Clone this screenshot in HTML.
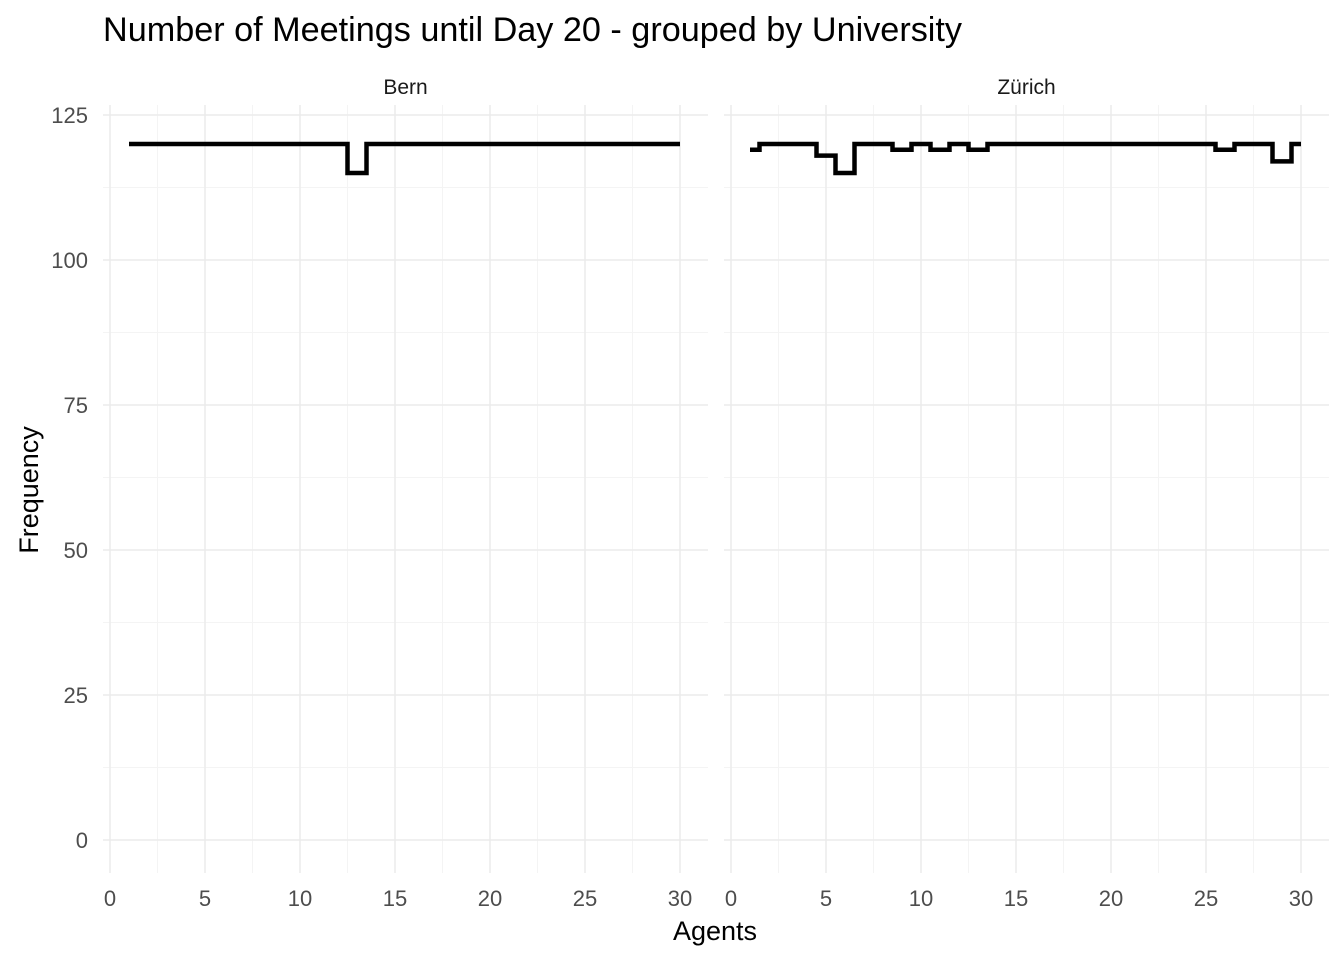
<!DOCTYPE html>
<html><head><meta charset="utf-8"><style>
body{margin:0;background:#fff;font-family:"Liberation Sans",Arial,sans-serif}
</style></head><body>
<svg id="chart" width="1344" height="960" xmlns="http://www.w3.org/2000/svg" font-family="Liberation Sans, Arial, sans-serif">
<text x="103" y="41" font-size="34" textLength="859" lengthAdjust="spacingAndGlyphs" fill="#000">Number of Meetings until Day 20 - grouped by University</text>
<text x="715" y="940" font-size="27" text-anchor="middle">Agents</text>
<text transform="translate(38,490) rotate(-90)" font-size="27" text-anchor="middle">Frequency</text>
<g id="panels"></g>
</svg>
<script>
const panelNames=["Bern","Zürich"];
const agents=[1,2,3,4,5,6,7,8,9,10,11,12,13,14,15,16,17,18,19,20,21,22,23,24,25,26,27,28,29,30];
const bernValues=[120,120,120,120,120,120,120,120,120,120,120,120,115,120,120,120,120,120,120,120,120,120,120,120,120,120,120,120,120,120];
const zurichValues=[119,120,120,120,118,115,120,120,119,120,119,120,119,120,120,120,120,120,120,120,120,120,120,120,120,119,120,120,117,120];
const xTicks=[0,5,10,15,20,25,30];
const yTicks=[0,25,50,75,100,125];
const series=[bernValues,zurichValues];
const NS="http://www.w3.org/2000/svg";
const g=document.getElementById('panels');
const panelX0=[110,731], pxPerX=19;
const yScale=v=>840-v*5.8;
function mk(t,a){const e=document.createElementNS(NS,t);for(const k in a)e.setAttribute(k,a[k]);return e;}
panelNames.forEach((name,p)=>{
  const xs=v=>panelX0[p]+v*pxPerX;
  const left=p?724:103,right=p?1329:708,top=105,bot=873;
  const pg=mk('g',{});
  
  
  g.appendChild(pg);
  for(let i=0;i<xTicks.length-1;i++){const m=(xTicks[i]+xTicks[i+1])/2;
    const l=mk('line',{x1:xs(m),x2:xs(m),y1:top,y2:bot,stroke:'#f4f4f4','stroke-width':1});
    pg.appendChild(l);}
  for(let i=0;i<yTicks.length-1;i++){const m=(yTicks[i]+yTicks[i+1])/2;
    const l=mk('line',{x1:left,x2:right,y1:yScale(m),y2:yScale(m),stroke:'#f4f4f4','stroke-width':1});
    pg.appendChild(l);}
  xTicks.forEach(t=>{
    const l=mk('line',{x1:xs(t),x2:xs(t),y1:top,y2:bot,stroke:'#ebebeb','stroke-width':1.5});
    pg.appendChild(l);
    const tx=mk('text',{x:xs(t),y:906,'font-size':22,fill:'#4d4d4d','text-anchor':'middle'});tx.textContent=t;
    pg.appendChild(tx);
  });
  yTicks.forEach(t=>{
    const l=mk('line',{x1:left,x2:right,y1:yScale(t),y2:yScale(t),stroke:'#ebebeb','stroke-width':1.5});
    pg.appendChild(l);
    if(p===0){const tx=mk('text',{x:88,y:yScale(t)+8,'font-size':22,fill:'#4d4d4d','text-anchor':'end'});tx.textContent=t;
    pg.appendChild(tx);}
  });
  const st=mk('text',{x:(left+right)/2,y:94,'font-size':21,fill:'#1a1a1a','text-anchor':'middle'});st.textContent=name;
  pg.appendChild(st);
  const vals=series[p];let d='M'+xs(agents[0])+','+yScale(vals[0]);
  for(let i=1;i<agents.length;i++){const mx=xs((agents[i-1]+agents[i])/2);
    d+=' H'+mx+' V'+yScale(vals[i]);}
  d+=' H'+xs(agents[agents.length-1]);
  const path=mk('path',{d:d,fill:'none',stroke:'#000','stroke-width':4.5});
  pg.appendChild(path);
});
</script>
</body></html>
